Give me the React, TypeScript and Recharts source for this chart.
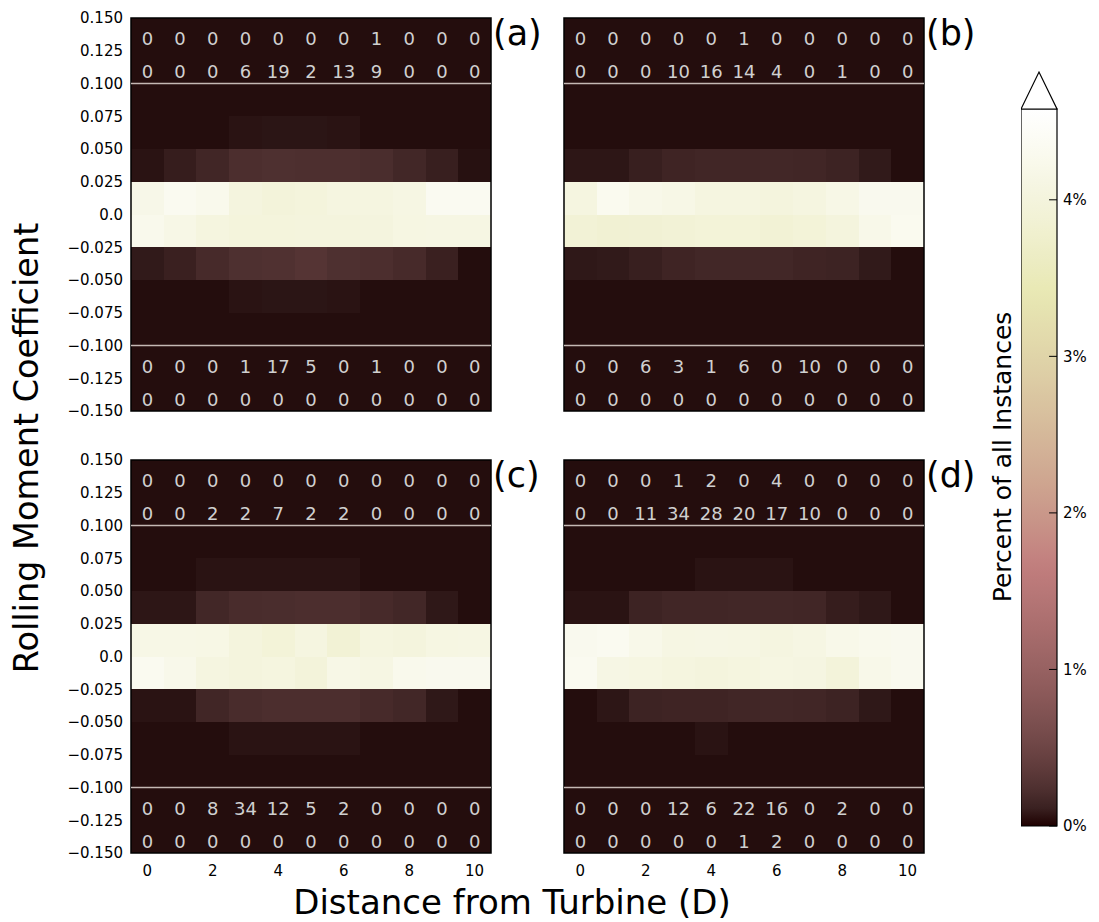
import React from 'react';
import { ComposedChart, XAxis, YAxis, ReferenceArea, ReferenceLine, Scatter } from 'recharts';

const FONT = '"DejaVu Sans", sans-serif';

// ---------- data ----------
const distances = [0, 1, 2, 3, 4, 5, 6, 7, 8, 9, 10];
const xTicks = [0, 2, 4, 6, 8, 10];
const yTicks = [0.15, 0.125, 0.1, 0.075, 0.05, 0.025, 0, -0.025, -0.05, -0.075, -0.1, -0.125, -0.15];
const BIN = 0.025;
const heatRowCenters = [0.0875, 0.0625, 0.0375, 0.0125, -0.0125, -0.0375, -0.0625, -0.0875];
const countRowCenters = [0.1375, 0.1125, -0.1125, -0.1375];
const VMAX = 4.58; // percent
const cbarTicks = [0, 1, 2, 3, 4];

const pctA = [
  [0, 0, 0, 0, 0, 0, 0, 0, 0, 0, 0],
  [0, 0, 0, 0.04, 0.045, 0.045, 0.04, 0, 0, 0, 0],
  [0.04, 0.09, 0.15, 0.22, 0.24, 0.23, 0.23, 0.21, 0.16, 0.1, 0.03],
  [4.18, 4.31, 4.25, 4.02, 3.95, 3.99, 4.05, 4.05, 4.1, 4.33, 4.33],
  [4.25, 4.15, 4.03, 3.99, 3.99, 4.0, 4.0, 4.02, 4.08, 4.1, 4.1],
  [0.07, 0.11, 0.19, 0.24, 0.25, 0.29, 0.24, 0.22, 0.19, 0.11, 0],
  [0, 0, 0, 0.04, 0.045, 0.045, 0.04, 0, 0, 0, 0],
  [0, 0, 0, 0, 0, 0, 0, 0, 0, 0, 0],
];
const countsA = [
  [0, 0, 0, 0, 0, 0, 0, 1, 0, 0, 0],
  [0, 0, 0, 6, 19, 2, 13, 9, 0, 0, 0],
  [0, 0, 0, 1, 17, 5, 0, 1, 0, 0, 0],
  [0, 0, 0, 0, 0, 0, 0, 0, 0, 0, 0],
];

const pctB = [
  [0, 0, 0, 0, 0, 0, 0, 0, 0, 0, 0],
  [0, 0, 0, 0, 0, 0, 0, 0, 0, 0, 0],
  [0.05, 0.05, 0.1, 0.14, 0.15, 0.15, 0.16, 0.15, 0.13, 0.07, 0],
  [4.05, 4.3, 4.2, 4.15, 4.05, 4.05, 4.0, 4.05, 4.15, 4.28, 4.28],
  [3.9, 3.85, 3.87, 3.9, 3.93, 3.93, 3.88, 3.93, 4.0, 4.2, 4.3],
  [0.06, 0.07, 0.1, 0.14, 0.16, 0.16, 0.16, 0.14, 0.13, 0.07, 0],
  [0, 0, 0, 0, 0, 0, 0, 0, 0, 0, 0],
  [0, 0, 0, 0, 0, 0, 0, 0, 0, 0, 0],
];
const countsB = [
  [0, 0, 0, 0, 0, 1, 0, 0, 0, 0, 0],
  [0, 0, 0, 10, 16, 14, 4, 0, 1, 0, 0],
  [0, 0, 6, 3, 1, 6, 0, 10, 0, 0, 0],
  [0, 0, 0, 0, 0, 0, 0, 0, 0, 0, 0],
];

const pctC = [
  [0, 0, 0, 0, 0, 0, 0, 0, 0, 0, 0],
  [0, 0, 0.04, 0.04, 0.04, 0.04, 0.04, 0, 0, 0, 0],
  [0.05, 0.05, 0.16, 0.2, 0.21, 0.22, 0.22, 0.19, 0.16, 0.06, 0],
  [4.15, 4.15, 4.13, 4.0, 3.93, 4.05, 3.88, 4.04, 4.0, 4.08, 4.1],
  [4.31, 4.21, 4.05, 4.0, 4.04, 3.96, 4.15, 4.1, 4.25, 4.28, 4.28],
  [0.04, 0.04, 0.15, 0.2, 0.22, 0.22, 0.22, 0.19, 0.16, 0.06, 0],
  [0, 0, 0, 0.04, 0.04, 0.04, 0.04, 0, 0, 0, 0],
  [0, 0, 0, 0, 0, 0, 0, 0, 0, 0, 0],
];
const countsC = [
  [0, 0, 0, 0, 0, 0, 0, 0, 0, 0, 0],
  [0, 0, 2, 2, 7, 2, 2, 0, 0, 0, 0],
  [0, 0, 8, 34, 12, 5, 2, 0, 0, 0, 0],
  [0, 0, 0, 0, 0, 0, 0, 0, 0, 0, 0],
];

const pctD = [
  [0, 0, 0, 0, 0, 0, 0, 0, 0, 0, 0],
  [0, 0, 0, 0, 0.04, 0.04, 0.04, 0, 0, 0, 0],
  [0.04, 0.04, 0.13, 0.15, 0.15, 0.16, 0.16, 0.15, 0.09, 0.06, 0],
  [4.28, 4.32, 4.2, 4.1, 4.12, 4.1, 4.05, 4.1, 4.2, 4.25, 4.28],
  [4.31, 4.12, 4.08, 4.04, 4.0, 4.04, 4.08, 4.06, 3.96, 4.2, 4.28],
  [0, 0.05, 0.13, 0.14, 0.14, 0.15, 0.16, 0.15, 0.13, 0.06, 0],
  [0, 0, 0, 0, 0.04, 0, 0, 0, 0, 0, 0],
  [0, 0, 0, 0, 0, 0, 0, 0, 0, 0, 0],
];
const countsD = [
  [0, 0, 0, 1, 2, 0, 4, 0, 0, 0, 0],
  [0, 0, 11, 34, 28, 20, 17, 10, 0, 0, 0],
  [0, 0, 0, 12, 6, 22, 16, 0, 2, 0, 0],
  [0, 0, 0, 0, 0, 1, 2, 0, 0, 0, 0],
];

const panelLabels = ['(a)', '(b)', '(c)', '(d)'];

// ---------- colormap (matplotlib "pink") ----------
const clamp01 = (v: number) => Math.min(1, Math.max(0, v));
function pinkRGB(t: number) {
  t = clamp01(t);
  const hr = clamp01(0.0416 + (t * (1 - 0.0416)) / 0.365079);
  const hg = clamp01((t - 0.365079) / (0.746032 - 0.365079));
  const hb = clamp01((t - 0.746032) / (1 - 0.746032));
  const r = Math.sqrt((2 * t + hr) / 3);
  const g = Math.sqrt((2 * t + hg) / 3);
  const b = Math.sqrt((2 * t + hb) / 3);
  return `rgb(${Math.round(r * 255)},${Math.round(g * 255)},${Math.round(b * 255)})`;
}
const T_MIN = 0.004;
const colorFor = (pct: number) => pinkRGB(Math.max(pct / VMAX, T_MIN));
const BG = colorFor(0);

const fmtY = (v: number) => (Math.abs(v) < 1e-9 ? '0.0' : (v < 0 ? '\u2212' : '') + Math.abs(v).toFixed(3));

// ---------- layout ----------
const PLOT_W = 360;
const PLOT_H = 393;
const AX_W = 80;
const AX_H = 30;
const PAD_T = 10;
const PAD_R = 10;
const layout = [
  { left: 131, top: 18, showY: true, showX: false },
  { left: 564, top: 18, showY: false, showX: false },
  { left: 131, top: 460, showY: true, showX: true },
  { left: 564, top: 460, showY: false, showX: true },
];
const panelData = [
  { pct: pctA, counts: countsA },
  { pct: pctB, counts: countsB },
  { pct: pctC, counts: countsC },
  { pct: pctD, counts: countsD },
];

const countLabel = (value: number) => (props: any) => {
  const vb = props.viewBox;
  if (!vb) return null;
  return (
    <text
      x={vb.x + vb.width / 2}
      y={vb.y + vb.height / 2 + 11}
      textAnchor="middle"
      fill="#d0d0d0"
      fontSize={18}
      fontFamily={FONT}
    >
      {value}
    </text>
  );
};

function Panel({ idx }: { idx: number }) {
  const { pct, counts } = panelData[idx];
  const { left, top, showY, showX } = layout[idx];
  const cells: any[] = [];
  heatRowCenters.forEach((yc, r) =>
    distances.forEach((d, c) => {
      cells.push({ x1: d - 0.5, x2: d + 0.5, y1: yc - BIN / 2, y2: yc + BIN / 2, fill: colorFor(pct[r][c]) });
    })
  );
  const countCells: any[] = [];
  countRowCenters.forEach((yc, r) =>
    distances.forEach((d, c) => {
      countCells.push({ x1: d - 0.5, x2: d + 0.5, y1: yc - BIN / 2, y2: yc + BIN / 2, value: counts[r][c], x: d, y: yc });
    })
  );
  const tickStyle = { fill: '#000', fontSize: 15, fontFamily: FONT };
  return (
    <div style={{ position: 'absolute', left: left - AX_W, top: top - PAD_T }}>
      <ComposedChart
        width={AX_W + PLOT_W + PAD_R}
        height={PAD_T + PLOT_H + AX_H}
        margin={{ top: PAD_T, right: PAD_R, bottom: 0, left: 0 }}
      >
        <XAxis
          type="number"
          dataKey="x"
          domain={[-0.5, 10.5]}
          ticks={xTicks}
          interval={0}
          allowDataOverflow
          height={AX_H}
          axisLine={false}
          tickLine={false}
          tickMargin={6}
          tick={showX ? tickStyle : false}
        />
        <YAxis
          type="number"
          dataKey="y"
          domain={[-0.15, 0.15]}
          ticks={yTicks}
          interval={0}
          allowDataOverflow
          width={AX_W}
          axisLine={false}
          tickLine={false}
          tickFormatter={fmtY}
          tick={showY ? tickStyle : false}
        />
        <ReferenceArea
          x1={-0.5}
          x2={10.5}
          y1={-0.15}
          y2={0.15}
          fill={BG}
          fillOpacity={1}
          ifOverflow="visible"
        />
        {cells.map((c, i) => (
          <ReferenceArea
            key={'h' + i}
            x1={c.x1}
            x2={c.x2}
            y1={c.y1}
            y2={c.y2}
            fill={c.fill}
            fillOpacity={1}
            shapeRendering="crispEdges"
            ifOverflow="visible"
          />
        ))}
        {countCells.map((c, i) => (
          <ReferenceArea
            key={'c' + i}
            x1={c.x1}
            x2={c.x2}
            y1={c.y1}
            y2={c.y2}
            fill="none"
            fillOpacity={0}
            ifOverflow="visible"
            label={countLabel(c.value)}
          />
        ))}
        <ReferenceLine y={0.1} stroke="#c4b8b4" strokeWidth={1.3} ifOverflow="visible" />
        <ReferenceLine y={-0.1} stroke="#c4b8b4" strokeWidth={1.3} ifOverflow="visible" />
        <ReferenceArea
          x1={-0.5}
          x2={10.5}
          y1={-0.15}
          y2={0.15}
          fill="none"
          fillOpacity={0}
          stroke="#000"
          strokeWidth={1.5}
          ifOverflow="visible"
        />
        <Scatter data={countCells} dataKey="y" isAnimationActive={false} shape={() => <g />} />
      </ComposedChart>
    </div>
  );
}

const CB_W = 36;
const CB_AX = 40;
const CB_TOP = 109;
const CB_BOTTOM = 826;
const CB_PAD_T = 40;
const CB_PAD_B = 10;
const EXT = 0.236; // extension arrow length in percent units
const TICK_FRAC = 0.22;

const arrowShape = (p: any) => {
  const { x, y, width, height } = p;
  if (x == null) return <g />;
  return (
    <polygon
      points={`${x},${y + height} ${x + width / 2},${y} ${x + width},${y + height}`}
      fill={pinkRGB(1)}
      stroke="#000"
      strokeWidth={1.2}
    />
  );
};

function Colorbar() {
  return (
    <div style={{ position: 'absolute', left: 1021, top: CB_TOP - CB_PAD_T }}>
      <ComposedChart
        width={CB_W + CB_AX}
        height={CB_PAD_T + (CB_BOTTOM - CB_TOP) + CB_PAD_B}
        margin={{ top: CB_PAD_T, right: 0, bottom: CB_PAD_B, left: 0 }}
      >
        <XAxis type="number" dataKey="x" domain={[0, 1]} hide allowDataOverflow />
        <YAxis
          type="number"
          dataKey="y"
          orientation="right"
          domain={[0, VMAX]}
          ticks={cbarTicks}
          interval={0}
          allowDataOverflow
          width={CB_AX}
          axisLine={false}
          tickLine={false}
          tickSize={4}
          tickFormatter={(v: number) => `${v}%`}
          tick={{ fill: '#000', fontSize: 15, fontFamily: FONT }}
        />
        <ReferenceArea
          x1={0}
          x2={1}
          y1={0}
          y2={VMAX}
          fill="url(#cbarGrad)"
          fillOpacity={1}
          stroke="#000"
          strokeWidth={1.2}
          ifOverflow="visible"
        />
        <ReferenceArea x1={0} x2={1} y1={VMAX} y2={VMAX + EXT} ifOverflow="visible" shape={arrowShape} />
        {cbarTicks.map((t) => (
          <ReferenceLine
            key={t}
            segment={[
              { x: 1 - TICK_FRAC, y: t },
              { x: 1, y: t },
            ]}
            stroke="#000"
            strokeWidth={1}
            ifOverflow="visible"
          />
        ))}
        <Scatter data={[{ x: 0.5, y: 0 }]} dataKey="y" isAnimationActive={false} shape={() => <g />} />
      </ComposedChart>
    </div>
  );
}

const gradStops = Array.from({ length: 41 }, (_, i) => i / 40);

export default function App() {
  return (
    <div
      style={{
        position: 'absolute',
        left: 0,
        top: 0,
        width: 1099,
        height: 922,
        background: '#fff',
        fontFamily: FONT,
        overflow: 'hidden',
      }}
    >
      <svg width={0} height={0} style={{ position: 'absolute' }}>
        <defs>
          <linearGradient id="cbarGrad" x1="0" y1="0" x2="0" y2="1">
            {gradStops.map((o) => (
              <stop key={o} offset={o} stopColor={pinkRGB(1 - o)} />
            ))}
          </linearGradient>
        </defs>
      </svg>
      {layout.map((_, i) => (
        <Panel key={i} idx={i} />
      ))}
      <Colorbar />
      <svg
        width={1099}
        height={922}
        style={{ position: 'absolute', left: 0, top: 0, pointerEvents: 'none' }}
        fontFamily={FONT}
      >
        {layout.map((l, i) => (
          <text key={i} x={l.left + PLOT_W + 2} y={l.top + 27} fontSize={35} fill="#000">
            {panelLabels[i]}
          </text>
        ))}
        <text transform="translate(38,448) rotate(-90)" textAnchor="middle" fontSize={33.5} fill="#000">
          Rolling Moment Coefficient
        </text>
        <text x={512} y={914} textAnchor="middle" fontSize={34} fill="#000">
          Distance from Turbine (D)
        </text>
        <text transform="translate(1011,457) rotate(-90)" textAnchor="middle" fontSize={25} fill="#000">
          Percent of all Instances
        </text>
      </svg>
    </div>
  );
}
